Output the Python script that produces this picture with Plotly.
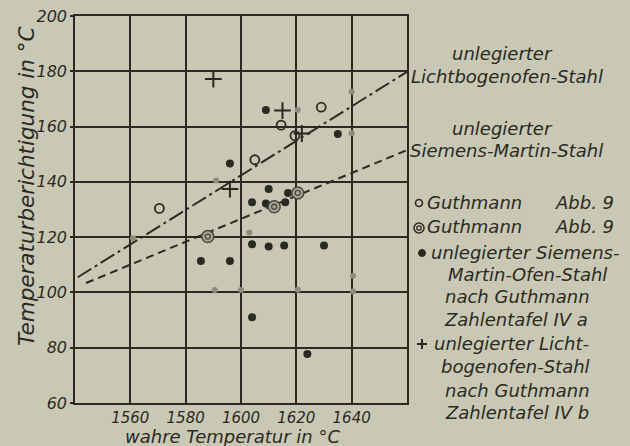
import plotly.graph_objects as go

# ---------------- data ----------------
x_range = [1540, 1660]
y_range = [60, 200]
x_ticks = [1560, 1580, 1600, 1620, 1640]
y_ticks = [60, 80, 100, 120, 140, 160, 180, 200]

# Guthmann Abb. 9 (open circles)
open_x = [1570.5, 1605, 1614.5, 1619.5, 1629]
open_y = [130.4, 148, 160.5, 156.7, 167]
# Guthmann Abb. 9 (double circles)
dbl_x = [1588, 1612, 1620.5]
dbl_y = [120.2, 131, 136]
# unlegierter Siemens-Martin-Ofen-Stahl (filled dots)
sm_x = [1609, 1596, 1610, 1604, 1609, 1616, 1617, 1604, 1610, 1615.6, 1630,
        1585.5, 1596, 1604, 1624, 1635]
sm_y = [166, 146.6, 137.4, 132.6, 132.2, 132.6, 136, 117.4, 116.6, 117, 117,
        111.4, 111.4, 91, 77.7, 157.3]
# unlegierter Lichtbogenofen-Stahl (plus)
lb_x = [1590, 1596, 1615, 1622]
lb_y = [177.2, 137.4, 165.8, 157.5]
# faded marks in the print
faint_x = [1591, 1620.5, 1640, 1640, 1590.5, 1600, 1620.5, 1640.5, 1640.5, 1561, 1603]
faint_y = [140.5, 166, 172.6, 157.6, 100.9, 100.9, 101, 106, 100.3, 119.6, 121.7]
# fitted lines
lb_line_x = [1541, 1660]
lb_line_y = [105.5, 179.8]
sm_line_x = [1544, 1660]
sm_line_y = [103.4, 151.5]

# ---------------- style ----------------
BG = "#c9c8b4"
INK = "#2a2a23"
FAINT = "#8d8c7e"
FONT = "DejaVu Sans, Liberation Sans, sans-serif"

L, R, T, B = 75, 223, 16, 43
W, H = 630, 446
PW, PH = W - L - R, H - T - B


def px(xp):
    return (xp - L) / PW


def py(yp):
    return (H - B - yp) / PH


fig = go.Figure()

fig.add_trace(go.Scatter(x=lb_line_x, y=lb_line_y, mode="lines",
                         line=dict(color=INK, width=2, dash="16px,4px,3px,4px"),
                         cliponaxis=False))
fig.add_trace(go.Scatter(x=sm_line_x, y=sm_line_y, mode="lines",
                         line=dict(color=INK, width=2, dash="8px,5px"),
                         cliponaxis=False))
fig.add_trace(go.Scatter(x=faint_x, y=faint_y, mode="markers",
                         marker=dict(symbol="circle", size=6, color=FAINT)))
fig.add_trace(go.Scatter(x=sm_x, y=sm_y, mode="markers",
                         marker=dict(symbol="circle", size=8, color=INK)))
fig.add_trace(go.Scatter(x=open_x, y=open_y, mode="markers",
                         marker=dict(symbol="circle-open", size=9, color=INK,
                                     line=dict(color=INK, width=1.8))))
fig.add_trace(go.Scatter(x=dbl_x, y=dbl_y, mode="markers",
                         marker=dict(symbol="circle", size=12, color="#a6a596",
                                     line=dict(color="#4a4a41", width=1.5))))
fig.add_trace(go.Scatter(x=dbl_x, y=dbl_y, mode="markers",
                         marker=dict(symbol="circle-open", size=5, color="#4a4a41",
                                     line=dict(color="#4a4a41", width=1.3))))
fig.add_trace(go.Scatter(x=lb_x, y=lb_y, mode="markers",
                         marker=dict(symbol="cross-thin", size=12, color=INK,
                                     line=dict(color=INK, width=2))))

fig.update_layout(
    width=W, height=H,
    margin=dict(l=L, r=R, t=T, b=B, autoexpand=False),
    paper_bgcolor=BG, plot_bgcolor=BG,
    showlegend=False,
    font=dict(family=FONT, size=16, color=INK, style="italic"),
)
fig.update_xaxes(range=x_range, tickvals=x_ticks, showgrid=True, gridcolor=INK,
                 gridwidth=1.5, showline=True, linecolor=INK, linewidth=1.5,
                 mirror=True, ticks="", zeroline=False, automargin=False,
                 ticklabelstandoff=0,
                 tickfont=dict(size=15, style="italic"))
fig.update_yaxes(range=y_range, tickvals=y_ticks, showgrid=True, gridcolor=INK,
                 gridwidth=1.5, showline=True, linecolor=INK, linewidth=1.5,
                 mirror=True, ticks="outside", ticklen=3, tickcolor=INK,
                 tickwidth=1.5, zeroline=False, automargin=False,
                 ticklabelstandoff=0,
                 tickfont=dict(size=16, style="italic"))

# axis titles
fig.add_annotation(xref="paper", yref="paper", x=px(232), y=py(436),
                   text="wahre Temperatur in °C", showarrow=False,
                   xanchor="center", yanchor="middle",
                   font=dict(size=18, style="italic", color=INK))
fig.add_annotation(xref="paper", yref="paper", x=px(26), y=py(186),
                   text="Temperaturberichtigung in °C", showarrow=False,
                   textangle=-90, xanchor="center", yanchor="middle",
                   font=dict(size=21.5, style="italic", color=INK))

TF = dict(size=18, style="italic", color=INK)


def txt(x, y, s, anchor="left"):
    fig.add_annotation(xref="paper", yref="paper", x=px(x), y=py(y), text=s,
                       showarrow=False, xanchor=anchor, yanchor="middle", font=TF)


# line labels
txt(502, 54, "unlegierter", "center")
txt(409, 76, "Lichtbogenofen-Stahl")
txt(502, 128, "unlegierter", "center")
txt(408, 150, "Siemens-Martin-Stahl")

# legend texts
txt(425, 202, "Guthmann")
txt(553, 202, "Abb. 9")
txt(425, 227, "Guthmann")
txt(553, 227, "Abb. 9")
txt(429, 252, "unlegierter Siemens-")
txt(527, 274, "Martin-Ofen-Stahl", "center")
txt(517, 296, "nach Guthmann", "center")
txt(516, 319, "Zahlentafel IV a", "center")
txt(432, 343, "unlegierter Licht-")
txt(515, 366, "bogenofen-Stahl", "center")
txt(517, 390, "nach Guthmann", "center")
txt(517, 413, "Zahlentafel IV b", "center")


# legend symbols as pixel-sized shapes
def circ(x, y, r, fill=None, lw=1.6, color=INK):
    fig.add_shape(type="circle", xref="paper", yref="paper",
                  xsizemode="pixel", ysizemode="pixel",
                  xanchor=px(x), yanchor=py(y), x0=-r, x1=r, y0=-r, y1=r,
                  line=dict(color=color, width=lw),
                  fillcolor=fill if fill else "rgba(0,0,0,0)")


def plus(x, y, r):
    fig.add_shape(type="line", xref="paper", yref="paper",
                  xsizemode="pixel", ysizemode="pixel",
                  xanchor=px(x), yanchor=py(y), x0=-r, x1=r, y0=0, y1=0,
                  line=dict(color=INK, width=2))
    fig.add_shape(type="line", xref="paper", yref="paper",
                  xsizemode="pixel", ysizemode="pixel",
                  xanchor=px(x), yanchor=py(y), x0=0, x1=0, y0=-r, y1=r,
                  line=dict(color=INK, width=2))


circ(419, 203, 3.5)
circ(419, 228, 5, lw=1.5)
circ(419, 228, 2.2, lw=1.3)
circ(422, 253, 3.5, fill=INK, lw=1)
plus(422, 344, 5)

fig.write_html(
    "out.html",
    config={"displayModeBar": False},
    post_script="document.body.style.margin='0px';"
                "document.body.style.overflow='hidden';"
                "document.body.style.background='" + BG + "';",
)
